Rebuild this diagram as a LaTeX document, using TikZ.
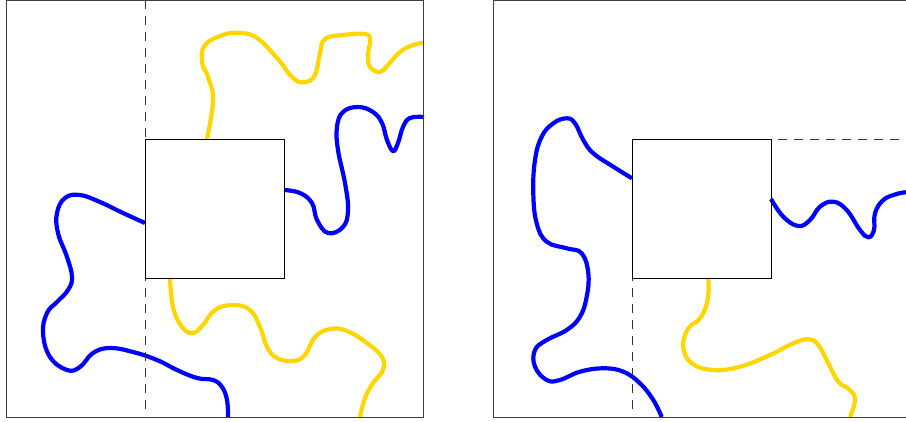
\documentclass[tikz,border=0pt]{standalone}
\usetikzlibrary{positioning}
\definecolor{curveblue}{RGB}{0,0,255}
\definecolor{curvegold}{RGB}{255,214,0}
\tikzset{
  outerframe/.style={draw=black!75, line width=1pt},
  innerbox/.style={draw=black, line width=0.9pt},
  cutline/.style={draw=black!80, line width=0.9pt, dash pattern=on 9pt off 7pt},
  bluecurve/.style={draw=curveblue, line width=4.2pt, line cap=butt},
  goldcurve/.style={draw=curvegold, line width=4.2pt, line cap=butt},
}
\begin{document}
\begin{tikzpicture}[x=1pt,y=-1pt]
\useasboundingbox (0,0) rectangle (906,421);
% ---------- left panel ----------
\draw[goldcurve] plot[smooth, tension=0.7] coordinates {(207,139) (213,100) (208,77) (202,62) (205,45) (223,35) (240,33) (257,38) (277,58) (293,78) (305,82) (315,75) (320,53) (325,39) (343,35) (365,34) (370,40) (368,55) (370,67) (380,72) (388,65) (400,52) (413,45) (424,43)};
\draw[bluecurve] plot[smooth, tension=0.7] coordinates {(284,190) (300,193) (312,203) (317,220) (328,233) (343,227) (348,210) (345,183) (338,150) (337,127) (343,112) (358,107) (373,112) (382,123) (387,140) (393,151) (398,143) (403,127) (410,118) (424,117)};
\draw[bluecurve] plot[smooth, tension=0.7] coordinates {(145,223) (123,213) (100,202) (80,195) (65,198) (57,213) (58,233) (67,257) (72,277) (68,290) (57,302) (47,313) (43,333) (50,357) (67,370) (80,367) (93,353) (110,348) (133,352) (157,360) (177,370) (197,378) (213,380) (222,387) (227,400) (228,417)};
\draw[goldcurve] plot[smooth, tension=0.7] coordinates {(170,278) (173,307) (182,327) (193,333) (203,325) (215,310) (233,305) (250,310) (260,327) (267,347) (277,358) (293,361) (305,355) (315,337) (330,329) (347,331) (367,343) (382,357) (383,370) (373,383) (365,398) (360,417)};
\coordinate (lcutTop) at (145,0);
\coordinate (lcutBot) at (145,409);
\draw[cutline] (lcutTop) -- (lcutBot);
\node[innerbox, minimum size=139pt, inner sep=0pt, anchor=north west] (lbox) at (145,139) {};
\node[outerframe, minimum size=417pt, inner sep=0pt, anchor=north west] (lframe) at (6,0) {};
% ---------- right panel ----------
\draw[bluecurve] plot[smooth, tension=0.7] coordinates {(632,178.3) (613.3,166.7) (593.3,153.3) (583.3,140) (575,123.3) (566.7,118.3) (553.3,123.3) (541.7,136.7) (535,160) (533.3,193.3) (536.7,223.3) (546.7,241.7) (566.7,248.3) (581.7,253.3) (588.3,273.3) (586.7,296.7) (580,316.7) (566.7,330) (546.7,340) (535,350) (535,366.7) (546.7,380) (560,380) (580,371.7) (603.3,368.3) (623.3,371.7) (640,383.3) (653.3,400) (661.7,417)};
\draw[bluecurve] plot[smooth, tension=0.7] coordinates {(771,199) (783.3,216.7) (798.3,226) (810,220) (820,206.7) (833.3,201.7) (846.7,210) (860,230) (868.3,237.3) (874,230) (875,213.3) (883.3,200) (896.7,194) (906,192.3)};
\draw[goldcurve] plot[smooth, tension=0.7] coordinates {(708.3,278) (707.7,300) (700,318.3) (688.3,328.3) (683.3,346.7) (691.7,363.3) (713.3,370) (740,366.7) (770,355) (793.3,343.3) (808.3,339.3) (818.3,345) (828.3,363.3) (838.3,381.7) (850,390) (855,400) (850,417)};
\coordinate (rcutRight) at (906,139);
\coordinate (rcutBot) at (632,409);
\draw[cutline] (rcutBot) -- (632,139) -- (rcutRight);
\node[innerbox, minimum size=139pt, inner sep=0pt, anchor=north west] (rbox) at (632,139) {};
\draw[outerframe] (906,0) -- (493,0) -- (493,417) -- (906,417);
\end{tikzpicture}
\end{document}
